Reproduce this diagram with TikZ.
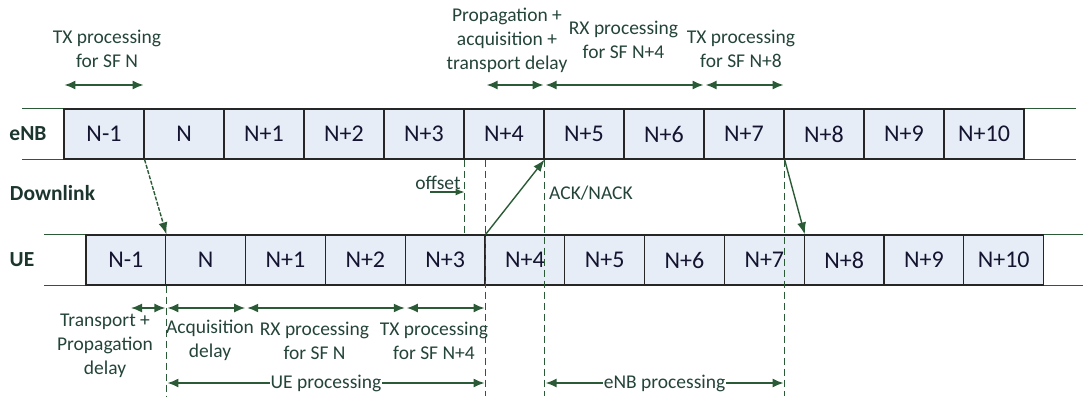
\documentclass[tikz,border=0pt]{standalone}
\usepackage{fontspec}
\setmainfont{Carlito}
\usetikzlibrary{arrows.meta,calc}
\definecolor{cellfill}{HTML}{E6EDF7}
\definecolor{linegreen}{HTML}{2A5A36}
\definecolor{notegreen}{HTML}{24443A}
\definecolor{rowlabel}{HTML}{1C362F}
\definecolor{cellink}{HTML}{141430}
\begin{document}
\begin{tikzpicture}[x=1pt,y=-1pt,
  cellbox/.style={draw=black!85, line width=1.2pt, fill=cellfill, minimum height=50pt,
    inner sep=0pt, text=cellink, font=\fontsize{24}{28}\selectfont},
  enbcell/.style={cellbox, minimum width=80pt},
  uecell/.style={cellbox, minimum width=79.8pt},
  rowline/.style={draw=linegreen, line width=1pt},
  rowname/.style={font=\bfseries\fontsize{21.5}{26}\selectfont, text=rowlabel, inner sep=0pt},
  note/.style={font=\fontsize{19.5}{24}\selectfont, text=notegreen, align=center, inner sep=0pt},
  span/.style={draw=linegreen, line width=1.6pt, shorten <=1pt, shorten >=1pt,
    {Latex[length=11pt,width=9pt]}-{Latex[length=11pt,width=9pt]}},
  signal/.style={draw=linegreen, line width=1.4pt, -{Latex[length=12pt,width=9pt]}},
  guide/.style={draw=linegreen, line width=1.6pt, dash pattern=on 7pt off 4pt},
]
\useasboundingbox (0,0) rectangle (1083,396);

% reference heights for the span arrows
\coordinate (upper) at (0,85);
\coordinate (lower) at (0,308);
\coordinate (lowest) at (0,383);
\coordinate (floor) at (0,396);

% subframe rows
\foreach \lab [count=\k] in {N-1,N,N+1,N+2,N+3,N+4,N+5,N+6,N+7,N+8,N+9,N+10}
  \node[enbcell] (e\k) at ({24+80*\k},134) {\lab};
\foreach \lab [count=\k] in {N-1,N,N+1,N+2,N+3,N+4,N+5,N+6,N+7,N+8,N+9,N+10}
  \node[uecell] (u\k) at ({46.1+79.8*\k},260) {\lab};

% row boundary lines
\draw[rowline] (e1.north west) -- ++(-41,0);
\draw[rowline] (e1.south west) -- ++(-41,0);
\draw[rowline] (e12.north east) -- ++(51,0);
\draw[rowline] (e12.south east) -- ++(51,0);
\draw[rowline] (u1.north west) -- ++(-41,0);
\draw[rowline] (u1.south west) -- ++(-41,0);
\draw[rowline] (u12.north east) -- ++(40,0);
\draw[rowline] (u12.south east) -- ++(40,0);

% row names
\node[rowname] (lenb) at (28,134) {eNB};
\node[rowname] (ldl) at (52.5,193) {Downlink};
\node[rowname] (lue) at (22,260) {UE};

% timing guides
\draw[guide] (e5.south east) -- (e5.south east |- u1.north);
\draw[guide] (u5.east |- e1.south) -- (u5.east |- floor);
\draw[guide] (e6.south east) -- (e6.south east |- floor);
\draw[guide] (e9.south east) -- (e9.south east |- floor);
\draw[guide] (u1.south east) -- (u1.south east |- floor);

% transmissions between eNB and UE
\draw[signal, dash pattern=on 4pt off 1.5pt] (e1.south east) -- (u1.north east);
\draw[signal] (u5.north east) -- (e6.south east);
\draw[signal] (e9.south east) -- (u9.north east);

% timing offset
\node[note] (noff) at (438,183) {offset};
\coordinate (offtail) at (430,192);
\draw[draw=linegreen, line width=1.4pt, -{Latex[length=9pt,width=7pt]}] (offtail) -- (offtail -| e5.east);
\node[note, anchor=west] (nack) at (549,193) {ACK/NACK};

% eNB-side intervals
\node[note] (n1) at (107,48.5) {TX processing\\for SF N};
\node[note] (n2) at (507,40) {Propagation +\\acquisition +\\transport delay};
\node[note] (n3) at (623.5,39.5) {RX processing\\for SF N+4};
\node[note] (n4) at (741,48.5) {TX processing\\for SF N+8};
\draw[span] (e1.west |- upper) -- (e1.east |- upper);
\draw[span] (u5.east |- upper) -- (e6.east |- upper);
\draw[span] (e6.east |- upper) -- (e8.east |- upper);
\draw[span] (e8.east |- upper) -- (e9.east |- upper);

% UE-side intervals
\coordinate (tpstart) at (130,308);
\node[note] (n5) at (105,346) {Transport +\\Propagation\\delay};
\node[note] (n6) at (210,340.5) {Acquisition\\delay};
\node[note] (n7) at (314.5,340.5) {RX processing\\for SF N};
\node[note] (n8) at (434,340.5) {TX processing\\for SF N+4};
\draw[span] (tpstart) -- (u1.east |- lower);
\draw[span] (u1.east |- lower) -- (u2.east |- lower);
\draw[span] (u2.east |- lower) -- (u4.east |- lower);
\draw[span] (u4.east |- lower) -- (u5.east |- lower);

% overall processing budgets
\draw[span] (u1.east |- lowest) -- node[note, fill=white, inner xsep=1pt, inner ysep=2pt] (nue) {UE processing} (u5.east |- lowest);
\draw[span] (e6.east |- lowest) -- node[note, fill=white, inner xsep=1pt, inner ysep=2pt] (nenb) {eNB processing} (e9.east |- lowest);
\end{tikzpicture}
\end{document}
